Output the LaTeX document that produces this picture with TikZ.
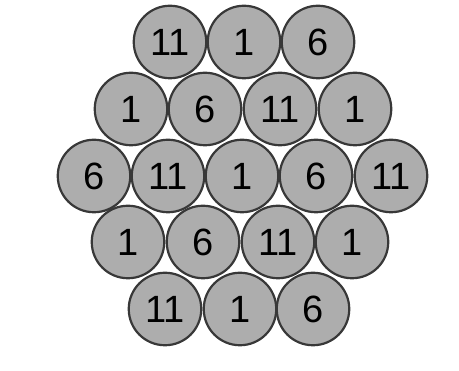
\documentclass[tikz,border=0pt]{standalone}
\usepackage{fontspec}
\setmainfont{Liberation Sans}
\begin{document}
\begin{tikzpicture}[x=1pt, y=1pt,
    every node/.style={font=\fontsize{38}{38}\selectfont},
    wire/.style={circle, draw=black!78, fill=black!32, line width=2.2pt, minimum size=72.5pt, inner sep=0pt}
]
\useasboundingbox (0,0) rectangle (459,371);
% top row: 11 1 6
\foreach \i/\x/\lbl in {1/170/11, 2/244/1, 3/318/6}{
    \node[wire] (a\i) at (\x,329) {\lbl};
}
% second row: 1 6 11 1
\foreach \i/\x/\lbl in {1/131/1, 2/205/6, 3/280/11, 4/355/1}{
    \node[wire] (b\i) at (\x,262) {\lbl};
}
% middle row: 6 11 1 6 11
\foreach \i/\x/\lbl in {1/94/6, 2/168/11, 3/242/1, 4/316/6, 5/391/11}{
    \node[wire] (c\i) at (\x,195) {\lbl};
}
% fourth row: 1 6 11 1
\foreach \i/\x/\lbl in {1/128/1, 2/203/6, 3/278/11, 4/352/1}{
    \node[wire] (d\i) at (\x,129) {\lbl};
}
% bottom row: 11 1 6
\foreach \i/\x/\lbl in {1/165/11, 2/240/1, 3/313/6}{
    \node[wire] (e\i) at (\x,62) {\lbl};
}
\end{tikzpicture}
\end{document}
